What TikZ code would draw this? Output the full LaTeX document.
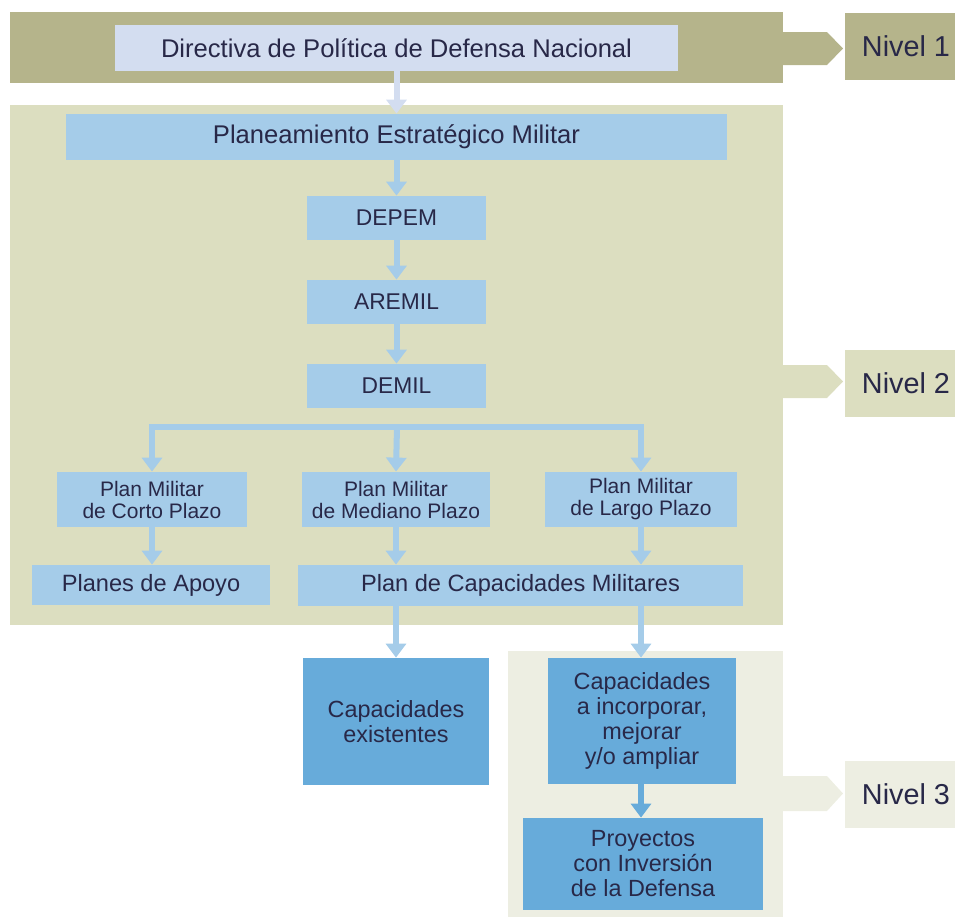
\documentclass[tikz,border=0pt]{standalone}
\usepackage{fontspec}
\setmainfont{Liberation Sans}
\usetikzlibrary{arrows.meta}

\definecolor{olivedark}{RGB}{181,180,139}
\definecolor{olivemid}{RGB}{220,222,192}
\definecolor{olivelight}{RGB}{237,238,226}
\definecolor{lavender}{RGB}{211,221,240}
\definecolor{skyblue}{RGB}{165,204,233}
\definecolor{midblue}{RGB}{103,171,218}
\definecolor{inkblue}{RGB}{40,40,72}

\begin{document}
\begin{tikzpicture}[x=0.5pt, y=-0.5pt,
    box/.style={fill=skyblue, text=inkblue, inner sep=0pt, align=center,
      font=\fontsize{11.8}{14}\selectfont},
    bigbox/.style={box, font=\fontsize{12.8}{15}\selectfont},
    codebox/.style={box, minimum width=89.5pt, minimum height=22pt, font=\fontsize{11.4}{14}\selectfont},
    smallbox/.style={box, font=\fontsize{10.5}{11}\selectfont},
    capbox/.style={box, fill=midblue, font=\fontsize{11.7}{12.5}\selectfont},
    lvl/.style={inner sep=0pt, text=inkblue, minimum width=61pt, minimum height=33.5pt,
      font=\fontsize{14.4}{16}\selectfont},
    arr/.style={-{Triangle[width=10pt,length=7pt]}, line width=3pt, draw=skyblue},
  ]
    \useasboundingbox (0,0) rectangle (955,917);

    % Bands and level tags
    \fill[olivedark]  (10,12)   rectangle (783,83);
    \fill[olivemid]   (10,105)  rectangle (783,625);
    \fill[olivelight] (508,651) rectangle (783,917);
    \fill[olivedark]  (783,32)  -- (827,32)  -- (843,48.5) -- (827,65)  -- (783,65)  -- cycle;
    \fill[olivemid]   (783,365) -- (827,365) -- (843,381.5) -- (827,398) -- (783,398) -- cycle;
    \fill[olivelight] (783,776) -- (827,776) -- (843,793.5) -- (827,811) -- (783,811) -- cycle;
    \node[lvl, fill=olivedark]  (n1) at (906,46.5) {Nivel 1};
    \node[lvl, fill=olivemid]   (n2) at (906,383)  {Nivel 2};
    \node[lvl, fill=olivelight] (n3) at (906,794.5) {Nivel 3};

    % Boxes
    \node[bigbox, fill=lavender, minimum width=281.5pt, minimum height=23pt] (dir) at (396.5,48) {Directiva de Política de Defensa Nacional};
    \node[bigbox, minimum width=330.5pt, minimum height=23pt] (pem) at (396.5,137) {Planeamiento Estratégico Militar};
    \node[codebox] (depem)  at (396.5,218) {DEPEM};
    \node[codebox] (aremil) at (396.5,302) {AREMIL};
    \node[codebox] (demil)  at (396.5,386) {DEMIL};
    \node[smallbox, minimum width=95pt, minimum height=27.5pt] (pmc) at (152,499.5) {Plan Militar\\de Corto Plazo};
    \node[smallbox, minimum width=94pt, minimum height=27.5pt] (pmm) at (396,499.5) {Plan Militar\\de Mediano Plazo};
    \node[smallbox, minimum width=96pt, minimum height=27.5pt] (pml) at (641,499.5) {Plan Militar\\de Largo Plazo};
    \node[box, minimum width=119pt, minimum height=20pt] (apoyo) at (151,585) {Planes de Apoyo};
    \node[box, minimum width=222.5pt, minimum height=20.5pt] (pcm) at (520.5,585.5) {Plan de Capacidades Militares};
    \node[capbox, minimum width=93pt, minimum height=63.5pt] (cex) at (396,721.5) {Capacidades\\existentes};
    \node[capbox, minimum width=94pt, minimum height=63pt] (cin) at (642,721) {Capacidades\\a incorporar,\\mejorar\\y/o ampliar};
    \node[capbox, minimum width=120pt, minimum height=46pt] (proy) at (643,864) {Proyectos\\con Inversión\\de la Defensa};

    % Connectors
    \draw[arr, draw=lavender] (dir) -- (pem);
    \draw[arr] (pem) -- (depem);
    \draw[arr] (depem) -- (aremil);
    \draw[arr] (aremil) -- (demil);

    \coordinate (br) at (397,427);
    \draw[skyblue, line width=3pt, line cap=rect] (pmc.north |- br) -- (pml.north |- br);
    \draw[arr] (pmc.north |- br) -- (pmc.north);
    \draw[arr] (br) -- (pmm.north);
    \draw[arr] (pml.north |- br) -- (pml.north);

    \draw[arr] (pmc) -- (pmc.south |- apoyo.north);
    \draw[arr] (pmm.south) -- (pmm.south |- pcm.north);
    \draw[arr] (pml.south) -- (pml.south |- pcm.north);

    \draw[arr] (cex.north |- pcm.south) -- (cex.north);
    \draw[arr] (pml.south |- pcm.south) -- (pml.south |- cin.north);
    \draw[arr, draw=midblue] (cin.south -| pml.south) -- (pml.south |- proy.north);
\end{tikzpicture}
\end{document}
